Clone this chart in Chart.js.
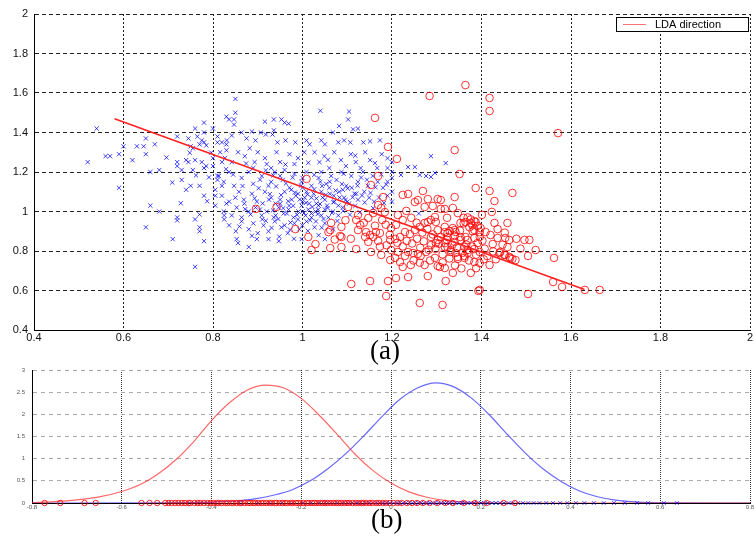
<!DOCTYPE html>
<html>
<head>
<meta charset="utf-8">
<script src="https://cdn.jsdelivr.net/npm/chart.js@4.4.1/dist/chart.umd.min.js"></script>
<style>
  html, body { margin: 0; padding: 0; background: #fff; }
  body { width: 755px; height: 536px; position: relative; overflow: hidden; }
  .panel { position: absolute; left: 0; width: 755px; }
  #topPanel { top: 0; height: 345px; }
  #bottomPanel { top: 360px; height: 155px; }
  .caption { position: absolute; font-family: "Liberation Serif", serif; font-size: 27px; line-height: 27px; color: #000; }
</style>
</head>
<body>
<div class="panel" id="topPanel"><canvas id="scatterChart"></canvas></div>
<div class="panel" id="bottomPanel"><canvas id="densityChart"></canvas></div>
<div class="caption" style="left:370px; top:337px;">(a)</div>
<div class="caption" style="left:371px; top:506px;">(b)</div>
<script>
  // ---- panel (a): the two classes and the LDA direction ----
  const class1Points = [ // blue x marks
    [0.54,1.42],[0.52,1.25],[0.57,1.28],[0.56,1.28],[0.59,1.12],[0.6,1.33],[0.59,1.29],[0.62,1.26],[0.63,1.33],[0.645,1.33],
    [0.65,1.37],[0.67,1.34],[0.65,1.29],[0.66,1.2],[0.68,1.21],[0.66,1.03],[0.68,1.0],[0.65,0.92],[0.71,0.86],[0.76,0.72],
    [0.72,1.25],[0.72,1.23],[0.72,1.38],[0.73,1.21],[0.73,1.16],[0.74,1.11],[0.75,1.13],[0.77,1.13],[0.72,0.97],[0.72,0.955],
    [0.76,0.96],[0.77,0.985],[0.77,0.92],[0.77,0.9],[0.78,0.85],[0.78,1.08],[0.74,1.26],[0.745,1.25],[0.76,1.26],[0.755,1.21],
    [0.745,1.37],[0.76,1.42],[0.78,1.45],[0.78,1.4],[0.765,1.38],[0.775,1.36],[0.78,1.35],[0.77,1.34],[0.785,1.335],[0.75,1.33],
    [0.755,1.32],[0.775,1.25],[0.78,1.22],[0.785,1.23],[0.8,1.42],[0.81,1.38],[0.8,1.27],[0.8,1.23],[0.82,1.25],[0.81,1.35],
    [0.83,1.34],[0.83,1.31],[0.81,1.18],[0.81,1.16],[0.82,1.13],[0.805,1.11],[0.805,1.08],[0.805,1.03],[0.825,0.98],[0.825,0.96],
    [0.83,1.04],[0.83,1.48],[0.85,1.57],[0.85,1.5],[0.836,1.466],[0.847,1.466],[0.847,1.44],[0.916,1.455],[0.936,1.466],[0.953,1.466],
    [0.96,1.45],[0.969,1.445],[1.04,1.51],[1.104,1.506],[1.102,1.466],[1.082,1.433],[1.113,1.416],[1.124,1.42],[0.936,1.411],
    [0.82,1.35],[0.831,1.36],[0.842,1.385],[0.864,1.4],[0.875,1.37],[0.887,1.405],[0.895,1.36],[0.907,1.4],[0.918,1.39],[0.933,1.39],
    [0.944,1.35],[0.962,1.36],[0.984,1.35],[1.009,1.36],[1.016,1.34],[1.042,1.36],[1.05,1.34],[1.068,1.4],[1.08,1.35],[1.093,1.36],
    [1.107,1.35],[1.136,1.35],[1.151,1.355],[1.173,1.36],
    [0.816,1.3],[0.827,1.27],[0.842,1.25],[0.856,1.3],[0.871,1.28],[0.882,1.32],[0.893,1.25],[0.9,1.3],[0.916,1.27],[0.93,1.22],
    [0.942,1.3],[0.95,1.25],[0.96,1.21],[0.971,1.29],[0.982,1.24],[0.99,1.27],[1.004,1.3],[1.027,1.3],[1.038,1.25],[1.049,1.28],
    [1.06,1.22],[1.071,1.3],[1.086,1.26],[1.097,1.23],[1.108,1.29],[1.119,1.25],[1.13,1.22],[1.14,1.3],[1.151,1.26],[1.167,1.22],[1.177,1.29],
    [0.813,1.18],[0.824,1.15],[0.836,1.2],[0.847,1.13],[0.864,1.17],[0.88,1.2],[0.89,1.14],[0.909,1.18],[0.924,1.13],[0.938,1.2],
    [0.956,1.16],[0.971,1.12],[0.982,1.19],[0.998,1.15],[1.009,1.2],[1.02,1.13],[1.036,1.17],[1.042,1.2],[1.053,1.14],[1.064,1.18],
    [1.076,1.16],[1.087,1.2],[1.098,1.13],[1.109,1.18],[1.124,1.15],[1.135,1.2],[1.146,1.13],[1.157,1.18],[1.168,1.15],
    [0.82,1.08],[0.836,1.05],[0.858,1.1],[0.869,1.06],[0.887,1.09],[0.898,1.05],[0.916,1.1],[0.93,1.07],[0.95,1.04],[0.96,1.1],
    [0.976,1.06],[0.99,1.09],[1.0,1.05],[1.009,1.1],[1.02,1.07],[1.031,1.04],[1.042,1.1],[1.05,1.06],[1.061,1.09],[1.071,1.05],
    [1.082,1.1],[1.093,1.07],[1.104,1.04],[1.116,1.09],[1.124,1.06],[1.138,1.1],[1.149,1.07],[1.16,1.05],
    [0.824,1.0],[0.842,0.98],[0.853,1.02],[0.864,0.97],[0.88,1.0],[0.895,1.02],[0.909,0.98],[0.92,1.0],[0.936,0.97],[0.947,1.02],
    [0.958,0.99],[0.969,1.01],[0.98,0.97],[0.991,1.0],[0.998,1.03],[1.007,0.98],[1.013,1.01],[1.02,0.97],[1.029,1.0],[1.036,1.03],
    [1.042,0.98],[1.05,1.01],[1.058,0.97],[1.068,1.0],[1.08,0.98],[1.09,1.02],
    [0.836,0.93],[0.851,0.9],[0.864,0.95],[0.88,0.91],[0.89,0.94],[0.9,0.89],[0.913,0.93],[0.924,0.9],[0.938,0.95],[0.953,0.92],
    [0.967,0.89],[0.982,0.94],[0.993,0.91],[1.009,0.95],[1.027,0.92],[1.05,0.94],[1.068,0.91],
    [0.853,0.86],[0.856,0.84],[0.898,0.86],[0.924,0.86],[0.947,0.85],[0.998,0.86],[1.05,0.86],[0.88,0.82],
    [0.95,1.06],[0.97,1.03],[0.985,1.08],[1.0,1.0],[1.005,1.07],[1.015,1.04],[1.025,1.09],[1.035,1.01],[1.045,1.07],[1.055,1.03],
    [0.965,0.99],[0.94,1.04],[0.925,1.06],[0.905,1.01],[0.975,1.11],[1.0,1.12],[1.06,1.12],[1.02,0.99],[1.03,0.95],[0.99,0.96],
    [0.94,0.98],[0.91,0.96],[0.96,0.93],[1.0,0.93],[1.07,1.08],[1.09,1.11],[1.11,1.12],[1.12,1.09],[1.1,1.05],[1.08,1.03],
    [0.87,1.04],[0.85,1.07],[0.93,1.15],[0.95,1.18],[1.0,1.17],[1.04,1.15],[0.89,1.22],[0.92,1.24],
    [0.872,1.012],[0.884,0.985],[0.893,1.067],[0.902,1.118],[0.911,1.041],[0.918,0.953],[0.927,1.088],[0.934,1.006],[0.941,1.127],
    [0.946,0.962],[0.952,1.083],[0.957,1.017],[0.963,1.142],[0.968,1.052],[0.973,0.944],[0.979,1.029],[0.983,1.096],[0.988,0.983],
    [0.994,1.061],[0.997,1.131],[1.003,0.992],[1.008,1.044],[1.011,1.087],[1.017,0.956],[1.022,1.023],[1.026,1.112],[1.031,1.066],
    [1.034,0.987],[1.039,1.038],[1.044,1.129],[1.047,0.962],[1.052,1.084],[1.056,1.018],[1.061,1.151],[1.066,0.993],[1.069,1.047],
    [1.074,1.106],[1.078,0.952],[1.083,1.071],[1.088,1.139],[1.091,1.003],[1.096,1.058],[1.101,1.117],[1.106,0.984],[1.112,1.072],
    [1.118,1.028],[1.123,1.131],[1.128,0.996],[1.133,1.081],[1.139,1.046],[1.144,1.161],[1.152,1.094],[1.158,1.017],[1.163,1.123],
    [1.171,1.071],[1.176,1.188],[1.182,1.043],[1.187,1.137],[0.905,1.161],[0.918,1.208],[0.935,1.183],[0.962,1.238],[0.978,1.172],
    [1.013,1.247],[1.026,1.186],[1.057,1.262],[1.092,1.191],[1.118,1.283],[1.131,1.172],[1.162,1.245],[0.866,1.129],[0.874,1.243],
    [0.845,1.187],[0.859,0.924],[0.887,0.877],[0.931,0.917],[0.972,0.908],[1.012,0.902],[1.043,0.918],[0.948,0.873],[0.981,0.862],
    [0.829,1.214],[0.791,1.173],[0.796,1.298],[0.787,1.052],[0.762,1.183],[0.748,1.297],[0.709,1.147],[0.696,1.273],[0.728,1.042],
    [1.287,1.28],[1.32,1.245],[1.262,1.185],[1.276,1.18],[1.287,1.175],[1.296,1.195],[1.236,1.225],[1.251,1.225],[1.22,1.185],
    [1.26,0.99],[1.036,0.88],[1.19,1.22],[1.2,1.17],[1.18,1.12],[1.19,1.08],[1.2,1.25],[1.19,1.15],[1.2,1.1],[1.2,1.2],[1.19,1.27],[1.2,1.05]
  ];

  const class2Points = [ // red circles
    [1.364,1.64],[1.284,1.585],[1.418,1.575],[1.418,1.509],[1.571,1.397],[1.34,1.311],[1.162,1.474],[1.191,1.327],[1.211,1.266],
    [1.169,1.18],[1.351,1.19],[1.009,1.165],[1.153,1.134],[1.18,1.073],[1.224,1.084],[1.236,1.089],[1.269,1.104],[1.387,1.119],
    [1.418,1.104],[1.469,1.094],[1.429,1.053],[1.34,1.073],[1.251,1.048],[1.258,1.058],[1.28,1.063],[1.302,1.063],[1.309,1.058],
    [1.273,1.023],[1.291,1.028],[1.309,1.013],[1.318,1.013],[1.336,1.018],[1.169,1.033],[1.176,1.018],[1.158,0.992],[1.184,0.997],
    [1.124,0.982],[1.102,1.023],[1.147,0.967],[1.213,0.982],[1.224,0.957],[1.064,0.942],[1.087,0.922],[1.062,0.906],[1.084,0.876],
    [1.12,0.957],[1.129,0.932],[1.142,0.896],[1.151,0.881],[1.158,0.871],[1.169,0.851],[1.164,0.896],[1.173,0.891],[1.124,0.906],
    [1.14,0.871],[1.147,0.846],[1.013,0.871],[1.02,0.805],[1.062,0.815],[1.087,0.82],[1.12,0.81],[1.153,0.795],[1.176,0.78],
    [1.198,0.916],[1.209,0.932],[1.196,0.856],[1.207,0.861],[1.218,0.871],[1.229,0.896],[1.24,0.886],[1.251,0.906],[1.262,0.922],
    [1.273,0.942],[1.28,0.947],[1.287,0.957],[1.298,0.947],[1.198,0.805],[1.213,0.795],[1.236,0.795],[1.196,0.754],[1.207,0.765],
    [1.218,0.744],[1.229,0.775],[1.224,0.719],[1.242,0.729],[1.273,0.729],[1.296,0.765],[1.302,0.724],[1.247,0.79],[1.258,0.785],
    [1.264,0.775],[1.276,0.795],[1.287,0.83],[1.298,0.84],[1.318,0.84],[1.324,0.82],[1.34,0.846],[1.302,0.906],[1.318,0.896],
    [1.329,0.901],[1.336,0.916],[1.342,0.896],[1.309,0.871],[1.324,0.871],[1.34,0.876],[1.353,0.871],[1.364,0.871],[1.353,0.942],
    [1.364,0.947],[1.376,0.942],[1.387,0.947],[1.391,0.927],[1.384,0.906],[1.396,0.896],[1.398,0.916],[1.369,0.856],[1.384,0.866],
    [1.396,0.871],[1.391,0.84],[1.331,0.805],[1.342,0.79],[1.362,0.775],[1.369,0.805],[1.384,0.81],[1.396,0.795],[1.347,0.76],
    [1.362,0.765],[1.384,0.744],[1.396,0.739],[1.418,0.729],[1.307,0.719],[1.318,0.714],[1.336,0.689],[1.376,0.689],[1.28,0.673],
    [1.236,0.668],[1.209,0.663],[1.191,0.648],[1.151,0.648],[1.109,0.633],[1.396,0.603],[1.187,0.572],[1.262,0.537],[1.313,0.527],
    [1.42,0.881],[1.436,0.866],[1.453,0.866],[1.462,0.856],[1.458,0.82],[1.442,0.795],[1.453,0.78],[1.464,0.765],[1.476,0.754],
    [1.429,0.942],[1.436,0.911],[1.458,0.942],[1.409,0.896],[1.496,0.856],[1.507,0.856],[1.504,0.775],[1.562,0.765],[1.504,0.582],
    [1.56,0.643],[1.58,0.618],[1.631,0.603],[1.664,0.603],[1.32,0.648],[1.369,0.97],[1.376,0.96],[1.384,0.951],[1.38,0.93],
    [1.38,0.9],[1.373,0.92],[1.36,0.94],[1.36,0.968],[1.296,0.972],[1.318,0.922],[1.324,0.891],[1.34,0.906],[1.353,0.856],
    [1.362,0.82],[1.369,0.79],[1.347,0.77],[1.331,0.795],[1.318,0.82],[1.302,0.856],[1.287,0.871],[0.896,1.013],[0.942,1.023],
    [0.984,0.911],[1.058,0.896],[1.087,0.871],[1.029,0.835],[1.44,0.79],[1.451,0.78],[1.462,0.77],[1.469,0.76],[1.393,0.598],
    [1.212,0.842],[1.224,0.823],[1.233,0.851],[1.245,0.838],[1.256,0.862],[1.263,0.817],[1.271,0.849],[1.282,0.806],[1.291,0.884],
    [1.297,0.811],[1.305,0.837],[1.313,0.783],[1.322,0.858],[1.328,0.762],[1.335,0.832],[1.345,0.818],[1.352,0.903],[1.358,0.791],
    [1.366,0.832],[1.372,0.752],[1.379,0.823],[1.388,0.781],[1.402,0.852],[1.407,0.812],[1.413,0.774],[1.425,0.835],[1.432,0.758],
    [1.447,0.832],[1.268,0.893],[1.279,0.912],[1.255,0.943],[1.243,0.968],[1.232,1.003],[1.248,0.752],[1.262,0.741],[1.285,0.752],
    [1.313,0.742],[1.341,0.727],[1.355,0.712],[1.388,0.713],[1.405,0.758],[1.426,0.798],[1.186,0.933],[1.178,0.957],[1.195,0.882],
    [1.188,0.829],[1.173,0.822],[1.162,0.928],[1.137,0.943],[1.108,0.862],[1.096,0.956],[1.072,0.858],[1.323,0.968],[1.347,0.992],
    [1.401,0.983],[1.423,0.998],[1.452,0.893],[1.478,0.862],[1.487,0.812],[1.521,0.805]
  ];

  const ldaLine = [[0.58, 1.47], [1.63, 0.605]];

  const xTicksA = [0.4, 2, 0.2];   // min, max, step
  const yTicksA = [0.4, 2, 0.2];

  // ---- panel (b): class densities along the LDA direction ----
  const redCurveX = [-0.8, -0.75, -0.7, -0.65, -0.6, -0.56, -0.52, -0.48, -0.44, -0.4, -0.36, -0.32, -0.28, -0.24, -0.2,
                     -0.16, -0.12, -0.08, -0.04, 0.0, 0.04, 0.08, 0.12, 0.16, 0.2, 0.25, 0.4, 0.8];
  const redCurveY = [0.01, 0.03, 0.07, 0.14, 0.26, 0.41, 0.65, 0.97, 1.38, 1.86, 2.26, 2.55, 2.66, 2.6, 2.36,
                     1.98, 1.55, 1.1, 0.73, 0.45, 0.25, 0.13, 0.06, 0.025, 0.01, 0.0, 0.0, 0.0];
  const blueCurveX = [-0.8, -0.5, -0.4, -0.35, -0.3, -0.26, -0.22, -0.18, -0.14, -0.1, -0.06, -0.02, 0.02, 0.06, 0.1,
                      0.14, 0.18, 0.22, 0.26, 0.3, 0.34, 0.38, 0.42, 0.46, 0.5, 0.55, 0.6, 0.8];
  const blueCurveY = [0.0, 0.005, 0.02, 0.045, 0.1, 0.18, 0.3, 0.5, 0.78, 1.12, 1.52, 1.95, 2.34, 2.6, 2.71,
                      2.62, 2.36, 1.98, 1.54, 1.12, 0.76, 0.48, 0.27, 0.14, 0.065, 0.02, 0.005, 0.0];

  const redRug = [-0.772, -0.737, -0.683, -0.658, -0.556, -0.538, -0.521, -0.503, -0.496, -0.489, -0.481, -0.474, -0.466,
                  -0.459, -0.451, -0.447, -0.438, -0.431, -0.425, -0.417, -0.409, -0.402, -0.396, -0.389, -0.384, -0.377,
                  -0.369, -0.364, -0.356, -0.351, -0.344, -0.337, -0.333, -0.326, -0.319, -0.314, -0.307, -0.302, -0.296,
                  -0.289, -0.284, -0.278, -0.271, -0.266, -0.259, -0.255, -0.248, -0.242, -0.236, -0.231, -0.224, -0.219,
                  -0.212, -0.207, -0.201, -0.195, -0.188, -0.183, -0.176, -0.171, -0.165, -0.158, -0.152, -0.147, -0.141,
                  -0.134, -0.128, -0.122, -0.117, -0.111, -0.104, -0.098, -0.093, -0.086, -0.079, -0.073, -0.066, -0.061,
                  -0.054, -0.047, -0.041, -0.033, -0.027, -0.019, -0.012, -0.004, 0.006, 0.015, 0.024, 0.036, 0.047, 0.058,
                  0.071, 0.086, 0.103, 0.121, 0.138, 0.162, 0.187, 0.213, 0.251, 0.276];
  const blueRug = [-0.338, -0.296, -0.271, -0.243, -0.219, -0.196, -0.178, -0.161, -0.147, -0.133, -0.121, -0.108, -0.097,
                   -0.087, -0.076, -0.068, -0.057, -0.049, -0.041, -0.032, -0.024, -0.017, -0.009, -0.002, 0.006, 0.013,
                   0.019, 0.027, 0.034, 0.041, 0.048, 0.054, 0.061, 0.067, 0.074, 0.081, 0.087, 0.093, 0.099, 0.106, 0.112,
                   0.118, 0.125, 0.131, 0.137, 0.144, 0.151, 0.158, 0.164, 0.171, 0.178, 0.185, 0.193, 0.201, 0.208, 0.216,
                   0.225, 0.234, 0.243, 0.252, 0.262, 0.271, 0.283, 0.294, 0.306, 0.318, 0.331, 0.346, 0.361, 0.377, 0.393,
                   0.412, 0.431, 0.452, 0.474, 0.497, 0.521, 0.548, 0.573, 0.608, 0.637];
  const xTicksB = [-0.8, 0.8, 0.2];
  const yTicksB = [0, 3, 0.5];

  const fmt = v => String(Math.round(v * 10) / 10);
  const toXY = pts => pts.map(p => ({ x: p[0], y: p[1] }));
  const zip = (xs, ys) => xs.map((x, i) => ({ x: x, y: ys[i] }));

  // fixed axis sizes so the plot areas sit where the reference has them
  const fixWidth = w => scale => { scale.width = w; scale.paddingTop = 0; scale.paddingBottom = 0; };
  const fixHeight = h => scale => { scale.height = h; scale.paddingLeft = 0; scale.paddingRight = 0; };

  // boxed legend in the top right corner of panel (a)
  const legendBox = {
    id: 'legendBox',
    afterDraw(chart) {
      const { ctx, chartArea } = chart;
      const ds = chart.data.datasets[0];
      const left = chartArea.right - 134, top = chartArea.top + 3, w = 132, h = 14;
      ctx.save();
      ctx.fillStyle = '#fff';
      ctx.fillRect(left, top, w, h);
      ctx.strokeStyle = '#000';
      ctx.lineWidth = 1;
      ctx.strokeRect(left + 0.5, top + 0.5, w, h);
      ctx.strokeStyle = '#ff7070';
      ctx.beginPath();
      ctx.moveTo(left + 7, top + h / 2 + 0.5);
      ctx.lineTo(left + 30, top + h / 2 + 0.5);
      ctx.stroke();
      ctx.fillStyle = '#000';
      ctx.font = '11px "Liberation Sans", Arial, sans-serif';
      ctx.textBaseline = 'middle';
      ctx.fillText(ds.label, left + 39, top + h / 2 + 1);
      ctx.restore();
    }
  };

  const tickFontA = { family: '"Liberation Sans", Arial, sans-serif', size: 11 };

  new Chart(document.getElementById('scatterChart'), {
    type: 'scatter',
    data: {
      datasets: [
        { label: 'LDA direction', data: toXY(ldaLine), showLine: true, borderColor: '#ff2020', borderWidth: 1.5,
          pointRadius: 0 },
        { label: 'class 2', data: toXY(class2Points), pointStyle: 'circle', pointRadius: 3.8,
          borderColor: 'rgba(255,0,0,0.8)', backgroundColor: 'rgba(0,0,0,0)', borderWidth: 1 },
        { label: 'class 1', data: toXY(class1Points), pointStyle: 'crossRot', pointRadius: 3,
          borderColor: 'rgba(0,0,255,0.75)', borderWidth: 1 }
      ]
    },
    options: {
      responsive: true,
      maintainAspectRatio: false,
      animation: false,
      events: [],
      layout: { padding: { top: 14, right: 1, left: 0, bottom: 0 } },
      plugins: { legend: { display: false }, tooltip: { enabled: false } },
      scales: {
        x: {
          type: 'linear', min: xTicksA[0], max: xTicksA[1],
          afterFit: fixHeight(15),
          ticks: { stepSize: xTicksA[2], callback: fmt, font: tickFontA, color: '#111', padding: 1, maxRotation: 0 },
          grid: { color: '#222', drawTicks: false },
          border: { display: true, color: '#000', width: 1, dash: [2, 2] }
        },
        y: {
          type: 'linear', min: yTicksA[0], max: yTicksA[1],
          afterFit: fixWidth(34),
          ticks: { stepSize: yTicksA[2], callback: fmt, font: tickFontA, color: '#111', padding: 6 },
          grid: { color: '#222', drawTicks: false },
          border: { display: true, color: '#000', width: 1, dash: [4, 3] }
        }
      }
    },
    plugins: [legendBox]
  });

  const tickFontB = { family: '"Liberation Sans", Arial, sans-serif', size: 6 };

  new Chart(document.getElementById('densityChart'), {
    type: 'scatter',
    data: {
      datasets: [
        { label: 'class 2 projection', data: redRug.map(v => ({ x: v, y: 0 })), pointStyle: 'circle', pointRadius: 2.7,
          borderColor: 'rgba(255,0,0,0.85)', backgroundColor: 'rgba(0,0,0,0)', borderWidth: 1, clip: false },
        { label: 'class 1 projection', data: blueRug.map(v => ({ x: v, y: 0 })), pointStyle: 'crossRot', pointRadius: 2.7,
          borderColor: 'rgba(0,0,255,0.65)', borderWidth: 1, clip: false },
        { label: 'class 2 density', data: zip(redCurveX, redCurveY), showLine: true, pointRadius: 0,
          borderColor: 'rgba(255,40,40,0.7)', borderWidth: 1.2, cubicInterpolationMode: 'monotone' },
        { label: 'class 1 density', data: zip(blueCurveX, blueCurveY), showLine: true, pointRadius: 0,
          borderColor: 'rgba(40,40,255,0.7)', borderWidth: 1.2, cubicInterpolationMode: 'monotone' }
      ]
    },
    options: {
      responsive: true,
      maintainAspectRatio: false,
      animation: false,
      events: [],
      layout: { padding: { top: 10, right: 0, left: 0, bottom: 0 } },
      plugins: { legend: { display: false }, tooltip: { enabled: false } },
      scales: {
        x: {
          type: 'linear', min: xTicksB[0], max: xTicksB[1],
          afterFit: fixHeight(12),
          ticks: { stepSize: xTicksB[2], callback: fmt, font: tickFontB, color: '#555', padding: 1, maxRotation: 0 },
          grid: { color: '#333', drawTicks: false },
          border: { display: true, color: '#000', width: 1, dash: [1, 1] }
        },
        y: {
          type: 'linear', min: yTicksB[0], max: yTicksB[1],
          afterFit: fixWidth(32),
          ticks: { stepSize: yTicksB[2], callback: fmt, font: tickFontB, color: '#555', padding: 7 },
          grid: { color: '#aaa', drawTicks: false },
          border: { display: true, color: '#000', width: 1, dash: [4, 4] }
        }
      }
    }
  });
</script>
</body>
</html>
